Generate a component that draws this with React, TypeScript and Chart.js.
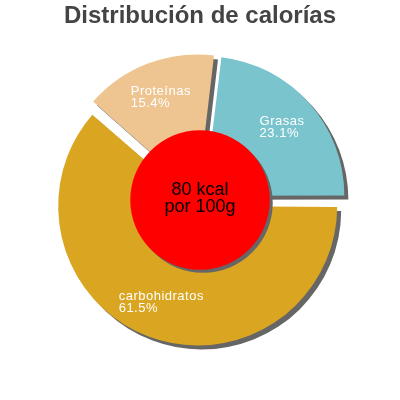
import { useEffect, useRef } from "react";
import { Chart, registerables } from "chart.js";

Chart.register(...registerables);

const categories = ["Grasas", "carbohidratos", "Proteínas"];
const shares = [23.1, 61.5, 15.4];
const shareLabels = ["23.1%", "61.5%", "15.4%"];
const sliceColors = ["#7AC5CD", "#DAA520", "#EEC591"];
const centerLines = ["80 kcal", "por 100g"];

const FONT = '"Liberation Sans", Arial, sans-serif';
const RADIUS = 139.5;
const OFFSET = 26; // chart.js moves a slice by offset / 4

const pieDecor = {
  id: "pieDecor",
  beforeDatasetsDraw(chart: any) {
    const { ctx } = chart;
    const arcs = chart.getDatasetMeta(0).data as any[];
    // big slices get their radius grown by the offset, undo that so all match
    arcs.forEach((arc) => {
      const fix = 1 - Math.sin(Math.min(Math.PI, arc.circumference));
      arc.outerRadius = RADIUS - ((arc.options.offset || 0) / 4) * fix;
    });
    ctx.save();
    ctx.translate(4, 4);
    arcs.forEach((arc) => {
      const opts = arc.options;
      arc.options = { ...opts, backgroundColor: "#666666", borderColor: "#666666" };
      arc.draw(ctx);
      arc.options = opts;
    });
    ctx.restore();
  },
  afterDatasetsDraw(chart: any) {
    const { ctx } = chart;
    const arcs = chart.getDatasetMeta(0).data as any[];
    const { x, y } = arcs[0];
    const r = RADIUS / 2;

    ctx.save();
    // red centre disc with its shadow
    ctx.fillStyle = "#666666";
    ctx.beginPath();
    ctx.arc(x + 3, y + 3, r, 0, Math.PI * 2);
    ctx.fill();
    ctx.fillStyle = "#FF0000";
    ctx.beginPath();
    ctx.arc(x, y, r, 0, Math.PI * 2);
    ctx.fill();

    ctx.fillStyle = "#000000";
    ctx.font = `18px ${FONT}`;
    ctx.textAlign = "center";
    ctx.textBaseline = "middle";
    ctx.fillText(centerLines[0], x, y - 9.5);
    ctx.fillText(centerLines[1], x, y + 7.5);

    // slice labels, left aligned block centred on the slice
    ctx.font = `13px ${FONT}`;
    (ctx as any).letterSpacing = "0.5px";
    ctx.fillStyle = "#FFFFFF";
    ctx.textAlign = "left";
    arcs.forEach((arc, i) => {
      const mid = (arc.startAngle + arc.endAngle) / 2;
      const dist = (arc.options.offset || 0) / 4 + RADIUS * 0.74;
      const cx = x + Math.cos(mid) * dist;
      const cy = y + Math.sin(mid) * dist;
      const lines = [categories[i], shareLabels[i]];
      const w = Math.max(...lines.map((t) => ctx.measureText(t).width));
      ctx.fillText(lines[0], cx - w / 2, cy - 6);
      ctx.fillText(lines[1], cx - w / 2, cy + 6);
    });
    ctx.restore();
  },
};

export default function App() {
  const canvasRef = useRef<HTMLCanvasElement>(null);
  const chartRef = useRef<Chart | null>(null);

  useEffect(() => {
    if (!canvasRef.current) return;
    const ctx = canvasRef.current.getContext("2d");
    if (!ctx) return;

    if (chartRef.current) {
      chartRef.current.destroy();
      chartRef.current = null;
    }

    chartRef.current = new Chart(ctx, {
      type: "pie",
      data: {
        labels: categories,
        datasets: [
          {
            data: shares,
            backgroundColor: sliceColors,
            borderWidth: 0,
            offset: OFFSET,
            radius: RADIUS,
          },
        ],
      },
      options: {
        responsive: true,
        maintainAspectRatio: false,
        animation: false,
        events: [],
        rotation: 6.8,
        layout: { padding: { bottom: 30.8 } },
        plugins: {
          legend: { display: false },
          tooltip: { enabled: false },
          title: {
            display: true,
            text: "Distribución de calorías",
            color: "#444444",
            font: { size: 24, weight: "bold", family: FONT },
            padding: { top: 2, bottom: 0 },
          },
        },
      },
      plugins: [pieDecor],
    });

    return () => {
      if (chartRef.current) {
        chartRef.current.destroy();
        chartRef.current = null;
      }
    };
  }, []);

  return (
    <div style={{ position: "absolute", left: 0, top: 0, width: 400, height: 400, background: "#ffffff" }}>
      <canvas ref={canvasRef}></canvas>
    </div>
  );
}
